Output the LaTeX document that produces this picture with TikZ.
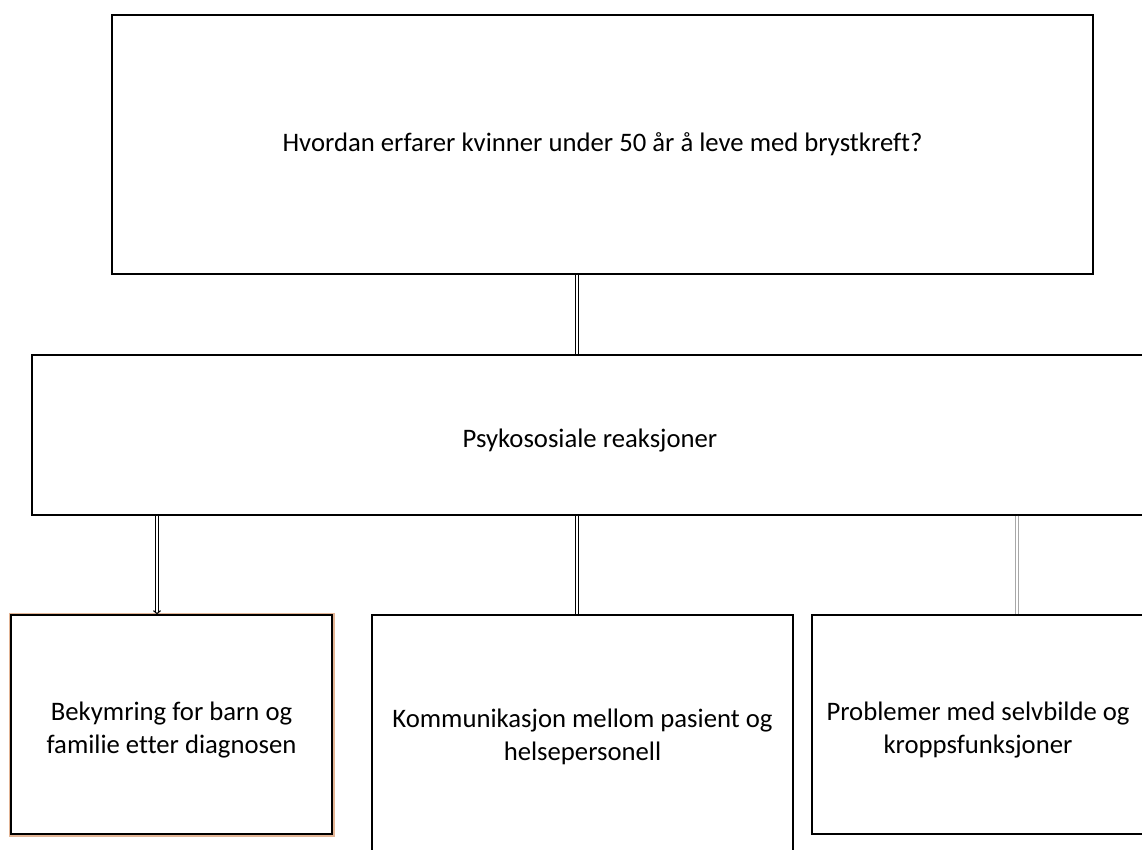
\documentclass[tikz,border=0pt]{standalone}
\usepackage{fontspec}
\setmainfont{Carlito}[Ligatures=NoCommon]
\usepackage{tikz}
\usetikzlibrary{arrows.meta,positioning,calc}

\definecolor{framegray}{HTML}{A8A8A8}
\definecolor{peach}{HTML}{E3B596}

% pushes a line of text down inside its box
\newcommand{\dropline}{\rule{0pt}{29pt}}

\tikzset{
  box/.style={draw=black,line width=1.3pt,fill=white,inner sep=0pt,align=center,
    font=\fontsize{26.7}{33}\selectfont},
  link/.style={draw=black,double=white,double distance=2pt,line width=1.1pt},
}

\begin{document}
\begin{tikzpicture}[x=1pt,y=-1pt]
  \useasboundingbox (0,0) rectangle (1142,850);
  % question and main theme
  \node[box,minimum width=981pt,minimum height=259pt] (top) at (602.5,144.5)
    {Hvordan erfarer kvinner under 50 år å leve med brystkreft?};
  \node[box,minimum width=1116pt,minimum height=160pt] (mid) at (590,435)
    {\dropline Psykososiale reaksjoner};
  % sub themes
  \node[box,minimum width=321pt,minimum height=219pt,
    preaction={draw=peach,line width=5pt}] (left) at (171.5,724.5)
    {\dropline Bekymring for barn og\\familie etter diagnosen};
  \node[box,minimum width=421pt,minimum height=243pt] (centre) at (582.5,736.5)
    {Kommunikasjon mellom pasient og\\helsepersonell};
  \node[box,minimum width=332pt,minimum height=219pt] (right) at (978,724.5)
    {\dropline Problemer med selvbilde og\\kroppsfunksjoner};

  \draw[link] ([xshift=-25.5pt]top.south) -- ([xshift=-25.5pt]top.south |- mid.north);
  \draw[link,-{Straight Barb[length=3pt,width=7pt]}] ([xshift=-14.5pt]left.north |- mid.south) -- ([xshift=-14.5pt]left.north);
  \draw[link] ([xshift=-5.5pt]centre.north |- mid.south) -- ([xshift=-5.5pt]centre.north);
  \draw[link,draw=framegray] ([xshift=39pt]right.north |- mid.south) -- ([xshift=39pt]right.north);
\end{tikzpicture}
\end{document}
